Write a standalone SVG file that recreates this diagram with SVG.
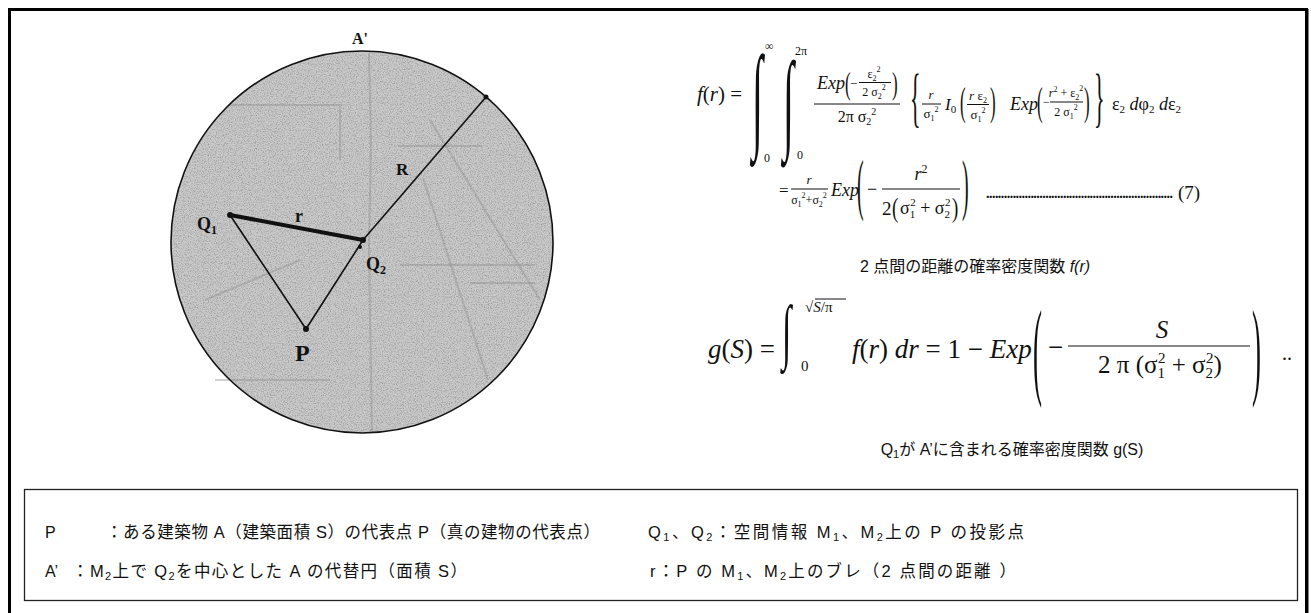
<svg xmlns="http://www.w3.org/2000/svg" width="1311" height="613" viewBox="0 0 1311 613">
<defs>
<style>
.m{font-family:"Liberation Serif","DejaVu Serif",serif;fill:#111}
.i{font-style:italic}
.b{font-family:"Liberation Serif","DejaVu Serif",serif;font-weight:bold;fill:#111}
.jp{font-family:"Liberation Sans","Noto Sans CJK JP",sans-serif;fill:#111}
.ln{stroke:#111;stroke-width:1.6;fill:none;stroke-linecap:round}
.bar{stroke:#111;stroke-width:1}
.scan{stroke:#8c8c8c;stroke-width:2;fill:none;opacity:0.4}
</style>
<filter id="grain" x="0" y="0" width="1" height="1">
<feTurbulence type="fractalNoise" baseFrequency="0.85" numOctaves="2" seed="7" result="t"/>
<feColorMatrix in="t" type="matrix" values="0 0 0 0 0  0 0 0 0 0  0 0 0 0 0  2.2 0 0 0 -0.95" result="d"/>
<feComposite in="d" in2="SourceGraphic" operator="in"/>
</filter>
</defs>
<rect width="1311" height="613" fill="#fff"/>

<g id="outer-frame">
<path d="M9.5 620 V9.5 H1306.5 V620" fill="none" stroke="#000" stroke-width="3"/>
<line x1="1307.5" y1="9" x2="1307.5" y2="613" stroke="#000" stroke-width="2"/>
</g>

<g id="circle-A">
<circle cx="362" cy="242" r="191" fill="#c9c9c9"/>
<circle cx="362" cy="242" r="190" fill="#000" opacity="0.25" filter="url(#grain)"/>
<path class="scan" d="M369 53 L371 140 L369 250 L372 432"/>
<path class="scan" d="M423 178 L488 380"/>
<path class="scan" d="M430 120 L540 300"/>
<path class="scan" d="M400 265 H535 M470 283 H535 M398 146 H482 M230 105 H340 V160"/>
<path class="scan" d="M205 300 L300 260 M215 380 H330"/>
<circle cx="362" cy="242" r="191" fill="none" stroke="#111" stroke-width="1.6"/>
</g>

<g id="label-A">
<text class="b" x="352" y="44" font-size="16">A'</text>
</g>

<g id="connectors">
<line x1="230" y1="215" x2="363" y2="240" stroke="#111" stroke-width="4" stroke-linecap="round"/>
<line class="ln" x1="230" y1="215" x2="306" y2="329"/>
<line class="ln" x1="306" y1="329" x2="363" y2="240"/>
<line class="ln" x1="363" y1="240" x2="486" y2="97"/>
</g>

<g id="node-Q1">
<circle cx="230" cy="215" r="3" fill="#111"/>
<text class="b" x="197" y="230" font-size="18">Q<tspan font-size="12" dy="4">1</tspan></text>
</g>
<g id="node-Q2">
<circle cx="363" cy="240" r="3" fill="#111"/>
<circle cx="360" cy="247" r="2" fill="#111"/>
<text class="b" x="366" y="270" font-size="18">Q<tspan font-size="12" dy="4">2</tspan></text>
</g>
<g id="node-P">
<circle cx="306" cy="329" r="3" fill="#111"/>
<text class="b" x="295" y="361" font-size="24">P</text>
</g>
<g id="node-R">
<circle cx="486" cy="97" r="2.5" fill="#111"/>
<text class="b" x="396" y="175" font-size="17">R</text>
<text class="b" x="295" y="222" font-size="18">r</text>
</g>

<g id="formula-f">
<text class="m" x="742" y="101" font-size="21" text-anchor="end"><tspan class="i">f</tspan>(<tspan class="i">r</tspan>) =</text>
<text class="m" font-size="40" transform="translate(752,136) scale(1,2.9)">∫</text>
<text class="m" x="765" y="50" font-size="12">∞</text>
<text class="m" x="764" y="162" font-size="12">0</text>
<text class="m" font-size="40" transform="translate(783,138) scale(1,2.75)">∫</text>
<text class="m" x="795" y="55" font-size="12">2π</text>
<text class="m" x="797" y="159" font-size="12">0</text>
<text class="m i" x="817" y="89" font-size="18">Exp</text>
<text class="m" font-size="17" transform="translate(845,94) scale(1,1.9)">(</text>
<text class="m" x="850" y="88" font-size="13">−</text>
<text class="m" x="874" y="78" font-size="12" text-anchor="middle">ε<tspan font-size="8" dy="3">2</tspan><tspan font-size="8" dy="-9">2</tspan></text>
<line class="bar" x1="859" y1="82.5" x2="891" y2="82.5" stroke-width="0.8"/>
<text class="m" x="874" y="96" font-size="12" text-anchor="middle">2 σ<tspan font-size="8" dy="3">2</tspan><tspan font-size="8" dy="-9">2</tspan></text>
<text class="m" font-size="17" transform="translate(892,94) scale(1,1.9)">)</text>
<line class="bar" x1="814" y1="104" x2="900" y2="104"/>
<text class="m" x="857" y="122" font-size="16" text-anchor="middle">2π σ<tspan font-size="10" dy="3">2</tspan><tspan font-size="10" dy="-10">2</tspan></text>
<text class="m" font-size="22" transform="translate(910,119) scale(1,3)">{</text>
<text class="m i" x="931" y="99" font-size="13" text-anchor="middle">r</text>
<line class="bar" x1="922" y1="104" x2="941" y2="104" stroke-width="0.8"/>
<text class="m" x="931" y="118" font-size="13" text-anchor="middle">σ<tspan font-size="8" dy="3">1</tspan><tspan font-size="8" dy="-9">2</tspan></text>
<text class="m i" x="945" y="110" font-size="17">I<tspan font-size="11" dy="3" font-style="normal">0</tspan></text>
<text class="m" font-size="17" transform="translate(960,115) scale(1,2.3)">(</text>
<text class="m" x="978" y="100" font-size="13" text-anchor="middle"><tspan class="i">r</tspan> ε<tspan font-size="8" dy="3">2</tspan></text>
<line class="bar" x1="967" y1="104.5" x2="989" y2="104.5" stroke-width="0.8"/>
<text class="m" x="978" y="119" font-size="13" text-anchor="middle">σ<tspan font-size="8" dy="3">1</tspan><tspan font-size="8" dy="-9">2</tspan></text>
<text class="m" font-size="17" transform="translate(990,115) scale(1,2.3)">)</text>
<text class="m i" x="1010" y="110" font-size="18">Exp</text>
<text class="m" font-size="17" transform="translate(1037,115) scale(1,2.3)">(</text>
<text class="m" x="1043" y="106" font-size="12">−</text>
<text class="m" x="1066" y="97" font-size="12" text-anchor="middle"><tspan class="i">r</tspan><tspan font-size="8" dy="-5">2</tspan><tspan dy="5"> + ε</tspan><tspan font-size="8" dy="3">2</tspan><tspan font-size="8" dy="-9">2</tspan></text>
<line class="bar" x1="1050" y1="102" x2="1083" y2="102" stroke-width="0.8"/>
<text class="m" x="1066" y="116" font-size="12" text-anchor="middle">2 σ<tspan font-size="8" dy="3">1</tspan><tspan font-size="8" dy="-9">2</tspan></text>
<text class="m" font-size="17" transform="translate(1084,115) scale(1,2.3)">)</text>
<text class="m" font-size="22" transform="translate(1094,119) scale(1,3)">}</text>
<text class="m" x="1112" y="110" font-size="18">ε<tspan font-size="11" dy="3">2</tspan><tspan dy="-3"> </tspan><tspan class="i">d</tspan>φ<tspan font-size="11" dy="3">2</tspan><tspan dy="-3"> </tspan><tspan class="i">d</tspan>ε<tspan font-size="11" dy="3">2</tspan></text>

<text class="m" x="779" y="196" font-size="17">=</text>
<text class="m i" x="809" y="184" font-size="13" text-anchor="middle">r</text>
<line class="bar" x1="791" y1="189" x2="828" y2="189" stroke-width="0.8"/>
<text class="m" x="809" y="204" font-size="12" text-anchor="middle">σ<tspan font-size="8" dy="3">1</tspan><tspan font-size="8" dy="-9">2</tspan><tspan dy="6">+σ</tspan><tspan font-size="8" dy="3">2</tspan><tspan font-size="8" dy="-9">2</tspan></text>
<text class="m i" x="831" y="196" font-size="18">Exp</text>
<text class="m" font-size="20" transform="translate(857,207) scale(1,3.4)">(</text>
<text class="m" x="867" y="195" font-size="18">−</text>
<text class="m i" x="921" y="180" font-size="18" text-anchor="middle">r<tspan font-size="12" dy="-7" font-style="normal">2</tspan></text>
<line class="bar" x1="882" y1="189" x2="960" y2="189"/>
<text class="m" x="882" y="215" font-size="19">2</text>
<text class="m" font-size="19" transform="translate(892,217) scale(1,1.45)">(</text>
<text class="m" x="900" y="214" font-size="18">σ<tspan font-size="11" dy="4">1</tspan><tspan font-size="11" dy="-12" dx="-5">2</tspan><tspan dy="8"> + σ</tspan><tspan font-size="11" dy="4">2</tspan><tspan font-size="11" dy="-12" dx="-5">2</tspan></text>
<text class="m" font-size="19" transform="translate(952,217) scale(1,1.45)">)</text>
<text class="m" font-size="20" transform="translate(962,207) scale(1,3.4)">)</text>
<text class="m" x="986" y="198" font-size="14" font-weight="bold" textLength="187" lengthAdjust="spacing">...............................................................</text>
<text class="m" x="1178" y="199" font-size="19">(7)</text>
</g>

<g id="caption-f">
<text class="jp" x="975" y="272" font-size="16" text-anchor="middle">2 点間の距離の確率密度関数 <tspan font-style="italic">f(r)</tspan></text>
</g>

<g id="formula-g">
<text class="m" x="708" y="358" font-size="27"><tspan class="i">g</tspan>(<tspan class="i">S</tspan>) =</text>
<text class="m" font-size="34" transform="translate(782,355) scale(1,2.1)">∫</text>
<text class="m" x="805" y="312" font-size="15">√<tspan class="i">S</tspan>/π</text>
<line class="bar" x1="815" y1="299" x2="846" y2="299" stroke-width="1"/>
<text class="m" x="801" y="371" font-size="15">0</text>
<text class="m" x="852" y="358" font-size="27"><tspan class="i">f</tspan>(<tspan class="i">r</tspan>) <tspan class="i">dr</tspan> = 1 − <tspan class="i">Exp</tspan></text>
<text class="m" font-size="27" transform="translate(1033,385) scale(1,4)">(</text>
<text class="m" x="1048" y="356" font-size="27">−</text>
<text class="m i" x="1162" y="338" font-size="25" text-anchor="middle">S</text>
<line class="bar" x1="1068" y1="346" x2="1250" y2="346" stroke-width="1.3"/>
<text class="m" x="1160" y="373" font-size="25" text-anchor="middle">2 π (σ<tspan font-size="15" dy="5">1</tspan><tspan font-size="15" dy="-15" dx="-7">2</tspan><tspan dy="10"> + σ</tspan><tspan font-size="15" dy="5">2</tspan><tspan font-size="15" dy="-15" dx="-7">2</tspan><tspan dy="10">)</tspan></text>
<text class="m" font-size="27" transform="translate(1252,385) scale(1,4)">)</text>
<text class="m" x="1282" y="360" font-size="20">..</text>
</g>

<g id="caption-g">
<text class="jp" x="1012" y="455" font-size="16" text-anchor="middle">Q<tspan font-size="11" dy="3">1</tspan><tspan dy="-3">が A’に含まれる確率密度関数 g(S)</tspan></text>
</g>

<g id="legend">
<rect x="24.5" y="489.5" width="1273" height="111" fill="none" stroke="#222" stroke-width="1.3"/>
<text class="jp" x="45" y="538" font-size="16">P</text>
<text class="jp" x="106" y="538" font-size="16.5" textLength="494" lengthAdjust="spacing">：ある建築物 A（建築面積 S）の代表点 P（真の建物の代表点）</text>
<text class="jp" x="648" y="538" font-size="16.5" textLength="376" lengthAdjust="spacing">Q<tspan font-size="11" dy="3">1</tspan><tspan dy="-3">、Q</tspan><tspan font-size="11" dy="3">2</tspan><tspan dy="-3">：空間情報 M</tspan><tspan font-size="11" dy="3">1</tspan><tspan dy="-3">、M</tspan><tspan font-size="11" dy="3">2</tspan><tspan dy="-3">上の P の投影点</tspan></text>
<text class="jp" x="45" y="577" font-size="16">A’</text>
<text class="jp" x="72" y="577" font-size="16.5" textLength="395" lengthAdjust="spacing">：M<tspan font-size="11" dy="3">2</tspan><tspan dy="-3">上で Q</tspan><tspan font-size="11" dy="3">2</tspan><tspan dy="-3">を中心とした A の代替円（面積 S）</tspan></text>
<text class="jp" x="650" y="577" font-size="16.5" textLength="366" lengthAdjust="spacing">r：P の M<tspan font-size="11" dy="3">1</tspan><tspan dy="-3">、M</tspan><tspan font-size="11" dy="3">2</tspan><tspan dy="-3">上のブレ（2 点間の距離 ）</tspan></text>
</g>
</svg>
